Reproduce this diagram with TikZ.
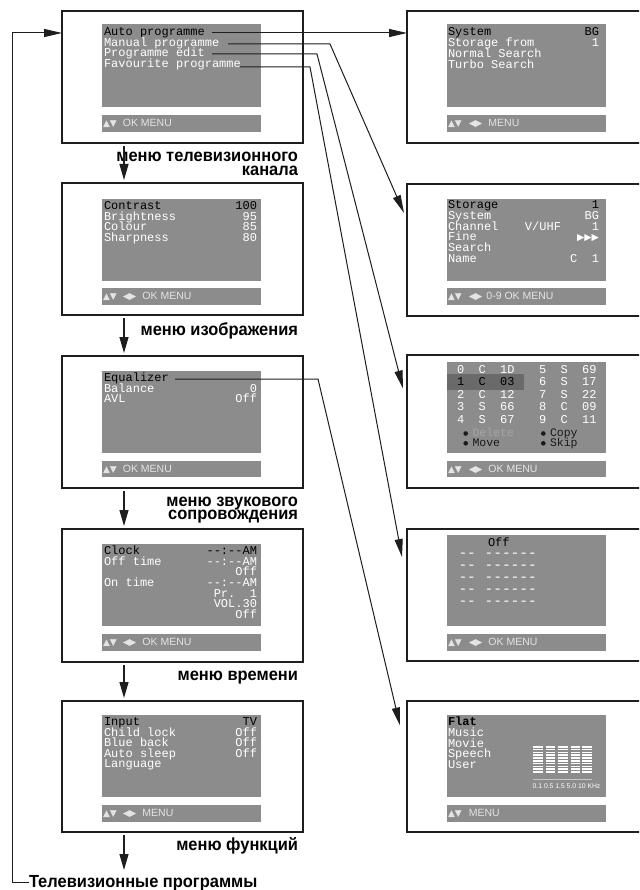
\documentclass[tikz,border=0pt]{standalone}
\usepackage{fontspec}
\setmainfont{Liberation Sans}
\setmonofont{Liberation Mono}
\newfontfamily\symf{DejaVu Sans}
\newfontfamily\capf{Liberation Sans}[FakeStretch=0.94]
\usetikzlibrary{arrows.meta}
\definecolor{scr}{HTML}{8C8C8C}
\definecolor{hlc}{HTML}{6A6A6A}
\definecolor{frm}{HTML}{1E1E1E}
\definecolor{bartxt}{HTML}{E4E4E4}
\definecolor{dimtxt}{HTML}{A6A6A6}
\definecolor{darktxt}{HTML}{1A1A1A}
\definecolor{eqln}{HTML}{C8C8C8}
\newlength\rwW
\setlength\rwW{153pt}
\newcommand\rw[2]{\makebox[\rwW][l]{#1}\llap{#2}}
\newcommand\bk[1]{\textcolor{black}{#1}}
\newcommand\stt{\rule{0pt}{9pt}}
\newcommand\udsym{{\symf\fontsize{9}{9}\selectfont ▲▼}}
\newcommand\lrsym{{\symf\fontsize{9.5}{9}\selectfont ◀\kern-1pt▶}}
\newcommand\monoset[2]{\ttfamily\fontsize{#1}{#2}\selectfont\lineskiplimit=-30pt\relax}
\newcommand\boxat[6]{%
  \pgfmathsetmacro\bxcx{(#3+#5)/2}%
  \pgfmathsetmacro\bxcy{(#4+#6)/2}%
  \pgfmathsetmacro\bxw{#5-#3}%
  \pgfmathsetmacro\bxh{#6-#4}%
  \node[#2, minimum width=\bxw pt, minimum height=\bxh pt] (#1) at (\bxcx,\bxcy) {};}
\tikzset{
  frame/.style={draw=frm, line width=1.5pt, fill=white, inner sep=0pt, outer sep=0pt},
  screen/.style={fill=scr, inner sep=0pt, outer sep=0pt},
  hlbox/.style={fill=hlc, inner sep=0pt, outer sep=0pt},
  scrtxt/.style={anchor=north west, inner sep=0pt, outer sep=0pt, align=left, text=white,
    font={\monoset{12}{#1}}},
  scrtxt/.default=10.7,
  footer/.style={anchor=base west, inner sep=0pt, outer sep=0pt, text=bartxt, font={\fontsize{10.5}{12}\selectfont}},
  lab/.style={inner sep=0pt, outer sep=0pt, font={\capf\bfseries\fontsize{17.5}{20}\selectfont}},
  conn/.style={draw=frm, line width=1pt},
  arrtip/.style={-{Triangle[length=18pt,width=8pt]}},
  varr/.style={draw=frm, line width=1.2pt, -{Triangle[length=16pt,width=9pt]}, shorten <=3pt, shorten >=3pt},
  bt/.style={anchor=base west, inner sep=0pt, outer sep=0pt, text=darktxt, font={\monoset{11.5}{12}}},
}
\begin{document}
\begin{tikzpicture}[x=1pt,y=-1pt]
\useasboundingbox (0,0) rectangle (639,890);
\clip (0,0) rectangle (639,890);
\fill[white] (0,0) rectangle (639,890);
% frames
\boxat{L1}{frame}{62}{11}{303}{143}
\boxat{L2}{frame}{62}{183}{303}{315}
\boxat{L3}{frame}{62}{356}{303}{488}
\boxat{L4}{frame}{62}{529}{303}{662}
\boxat{L5}{frame}{62}{701}{303}{832}
\boxat{R1}{frame}{407}{11}{660}{143}
\boxat{R2}{frame}{407}{184}{660}{316}
\boxat{R3}{frame}{407}{355}{660}{488}
\boxat{R4}{frame}{407}{529}{660}{661}
\boxat{R5}{frame}{407}{701}{660}{832}
% screens and bars
\boxat{sL1}{screen}{102}{24}{261}{107}
\boxat{bL1}{screen}{102}{115}{261}{132}
\boxat{sL2}{screen}{102}{199}{261}{281}
\boxat{bL2}{screen}{102}{288}{261}{305}
\boxat{sL3}{screen}{102}{371}{261}{453}
\boxat{bL3}{screen}{102}{461}{261}{477}
\boxat{sL4}{screen}{102}{544}{261}{626}
\boxat{bL4}{screen}{102}{634}{261}{651}
\boxat{sL5}{screen}{102}{715}{261}{797}
\boxat{bL5}{screen}{102}{805}{261}{822}
\boxat{sR1}{screen}{447}{24}{606}{107}
\boxat{bR1}{screen}{447}{115}{606}{132}
\boxat{sR2}{screen}{447}{199}{606}{281}
\boxat{bR2}{screen}{447}{288}{606}{305}
\boxat{sR3}{screen}{447}{362}{606}{453}
\boxat{bR3}{screen}{447}{461}{606}{477}
\boxat{sR4}{screen}{447}{535}{606}{626}
\boxat{bR4}{screen}{447}{634}{606}{651}
\boxat{sR5}{screen}{447}{715}{606}{797}
\boxat{bR5}{screen}{447}{805}{606}{822}
\boxat{hl}{hlbox}{447}{374}{524}{390}
% left screen texts
\setlength\rwW{153pt}
\node[scrtxt] (tL1) at (104,26.5) {\stt\bk{Auto programme}\\Manual programme\\Programme edit\\Favourite programme};
\node[scrtxt] (tL2) at (104,200.5) {\stt\rw{\bk{Contrast}}{\bk{100}}\\\rw{Brightness}{95}\\\rw{Colour}{85}\\\rw{Sharpness}{80}};
\node[scrtxt] (tL3) at (104,372.5) {\stt\rw{\bk{Equalizer}}{}\\\rw{Balance}{0}\\\rw{AVL}{Off}};
\node[scrtxt] (tL4) at (104,545.3) {\stt\rw{\bk{Clock}}{\bk{-{}-:-{}-AM}}\\\rw{Off time}{-{}-:-{}-AM}\\\rw{}{Off}\\\rw{On time}{-{}-:-{}-AM}\\\rw{}{Pr.~~1}\\\rw{}{VOL.30}\\\rw{}{Off}};
\node[scrtxt=10.5] (tL5) at (104,716.7) {\stt\rw{\bk{Input}}{\bk{TV}}\\\rw{Child lock}{Off}\\\rw{Blue back}{Off}\\\rw{Auto sleep}{Off}\\\rw{Language}{}};
% right screen texts
\setlength\rwW{151pt}
\node[scrtxt] (tR1) at (448,27) {\stt\rw{\bk{System}}{\bk{BG}}\\\rw{Storage from}{1}\\Normal Search\\Turbo Search};
\node[scrtxt=10.9] (tR2) at (448,199.3) {\stt\rw{\bk{Storage}}{\bk{1}}\\\rw{System}{BG}\\\rw{\makebox[77pt][l]{Channel}V/UHF}{1}\\\rw{Fine}{{\symf\fontsize{9.5}{8}\selectfont ▶▶▶}}\\\rw{Search}{}\\\rw{Name}{C~~1}};
\node[scrtxt=12.5] (gA) at (457,364.3) {\stt 0~~C~~1D\\\bk{1~~C~~03}\\2~~C~~12\\3~~S~~66\\4~~S~~67};
\node[scrtxt=12.5] (gB) at (539,364.3) {\stt 5~~S~~69\\6~~S~~17\\7~~S~~22\\8~~C~~09\\9~~C~~11};
\fill[darktxt] (465.7,433.5) circle[radius=2.3];
\fill[darktxt] (465.7,443.3) circle[radius=2.3];
\fill[darktxt] (543.3,433.5) circle[radius=2.3];
\fill[darktxt] (543.3,443.3) circle[radius=2.3];
\node[bt, text=dimtxt] (del) at (472.5,436.5) {Delete};
\node[bt] (mov) at (472.5,446.5) {Move};
\node[bt] (cop) at (550,436.5) {Copy};
\node[bt] (skp) at (550,446.5) {Skip};
\node[bt, text=black, font={\monoset{12}{12}}] (offR4) at (488,546.2) {Off};
\node[scrtxt, font={\monoset{14.5}{12}}] (dsh) at (458.5,552.5) {\rule{0pt}{4.8pt}-{}-~-{}-{}-{}-{}-{}-\\-{}-~-{}-{}-{}-{}-{}-\\-{}-~-{}-{}-{}-{}-{}-\\-{}-~-{}-{}-{}-{}-{}-\\-{}-~-{}-{}-{}-{}-{}-};
\node[scrtxt=10.65] (tR5) at (448,716.7) {\stt\bk{\bfseries Flat}\\Music\\Movie\\Speech\\User};
\foreach \c in {533,545.5,558,570.5,582}{
  \foreach \k in {0,...,9}{
    \fill[white] (\c,746+\k*2.8) rectangle ++(9.5,1.6);
  }
}
\draw[eqln, line width=1pt] (533,779.5) -- (592,779.5);
\node[anchor=base west, inner sep=0pt, text=white, font={\fontsize{6.8}{7}\selectfont}] (khz) at (532.5,788) {0.1 0.5 1.5 5.0 10 KHz};
% footers
\node[footer] (fL1) at (103,126.5) {\udsym\hspace{6pt}OK MENU};
\node[footer] (fL2) at (103,299.5) {\udsym\hspace{6pt}\lrsym\hspace{6pt}OK MENU};
\node[footer] (fL3) at (103,472.5) {\udsym\hspace{6pt}OK MENU};
\node[footer] (fL4) at (103,645.5) {\udsym\hspace{6pt}\lrsym\hspace{6pt}OK MENU};
\node[footer] (fL5) at (103,816.5) {\udsym\hspace{6pt}\lrsym\hspace{6pt}MENU};
\node[footer] (fR1) at (448,126.5) {\udsym\hspace{7pt}\lrsym\hspace{6pt}MENU};
\node[footer] (fR2) at (448,299.5) {\udsym\hspace{7pt}\lrsym\hspace{4pt}0-9 OK MENU};
\node[footer] (fR3) at (448,472.5) {\udsym\hspace{7pt}\lrsym\hspace{6pt}OK MENU};
\node[footer] (fR4) at (448,645.5) {\udsym\hspace{7pt}\lrsym\hspace{6pt}OK MENU};
\node[footer] (fR5) at (448,816.5) {\udsym\hspace{7pt}MENU};
% captions
\node[lab, anchor=base east] (m1a) at (298,161.7) {меню телевизионного};
\node[lab, anchor=base east] (m1b) at (298,175.5) {канала};
\node[lab, anchor=base east] (m2) at (298,335.5) {меню изображения};
\node[lab, anchor=base east] (m3a) at (298,506.5) {меню звукового};
\node[lab, anchor=base east] (m3b) at (298,519.5) {сопровождения};
\node[lab, anchor=base east] (m4) at (298,680) {меню времени};
\node[lab, anchor=base east] (m5) at (298,850.7) {меню функций};
\node[lab, anchor=base west] (TV) at (29,887) {Телевизионные программы};
% vertical arrows
\coordinate (vx) at (124,0);
\coordinate (vend) at (124,873);
\draw[varr] (L1.south -| vx) -- (L2.north -| vx);
\draw[varr] (L2.south -| vx) -- (L3.north -| vx);
\draw[varr] (L3.south -| vx) -- (L4.north -| vx);
\draw[varr] (L4.south -| vx) -- (L5.north -| vx);
\draw[varr] (L5.south -| vx) -- (vend);
% loop back
\coordinate (lp) at (12,33);
\draw[conn, arrtip] (TV.west) -| (lp) -- (L1.west |- lp);
% menu item connectors
\coordinate (a1) at (212,33);
\coordinate (a2) at (228,44);  \coordinate (b2) at (330,44);  \coordinate (t2) at (404,213);
\coordinate (a3) at (212,54);  \coordinate (b3) at (317,54);  \coordinate (t3) at (403,388.5);
\coordinate (a4) at (240,67);  \coordinate (b4) at (310,67);  \coordinate (t4) at (402,557);
\coordinate (a5) at (175,379); \coordinate (b5) at (318,379); \coordinate (t5) at (400,725.5);
\draw[conn, arrtip] (a1) -- (R1.west |- a1);
\draw[conn, arrtip] (a2) -- (b2) -- (t2);
\draw[conn, arrtip] (a3) -- (b3) -- (t3);
\draw[conn, arrtip] (a4) -- (b4) -- (t4);
\draw[conn, arrtip] (a5) -- (b5) -- (t5);
\end{tikzpicture}
\end{document}
